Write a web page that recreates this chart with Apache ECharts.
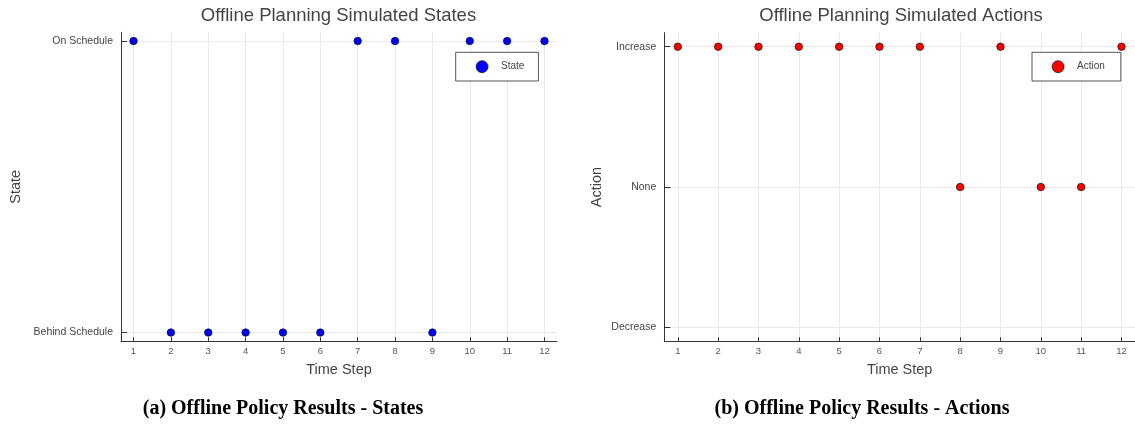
<!DOCTYPE html>
<html><head><meta charset="utf-8">
<script src="https://cdn.jsdelivr.net/npm/echarts@6/dist/echarts.min.js"></script>
<style>html,body{margin:0;padding:0;background:#fff;overflow:hidden}#c{width:1135px;height:424px}</style>
</head><body><div id="c"></div>
<script>
// ---- data ----
const timeSteps = [1, 2, 3, 4, 5, 6, 7, 8, 9, 10, 11, 12];
const stateLevels = ['Behind Schedule', 'On Schedule'];
const actionLevels = ['Decrease', 'None', 'Increase'];
const stateValues = ['On Schedule', 'Behind Schedule', 'Behind Schedule', 'Behind Schedule', 'Behind Schedule', 'Behind Schedule', 'On Schedule', 'On Schedule', 'Behind Schedule', 'On Schedule', 'On Schedule', 'On Schedule'];
const actionValues = ['Increase', 'Increase', 'Increase', 'Increase', 'Increase', 'Increase', 'Increase', 'None', 'Increase', 'None', 'None', 'Increase'];
const xTickValues = [1, 2, 3, 4, 5, 6, 7, 8, 9, 10, 11, 12];
const stateTickValues = [1, 2];
const actionTickValues = [1, 2, 3];

const stateData = timeSteps.map((t, i) => [t, stateLevels.indexOf(stateValues[i]) + 1]);
const actionData = timeSteps.map((t, i) => [t, actionLevels.indexOf(actionValues[i]) + 1]);

const FONT = 'Liberation Sans, Arial, sans-serif';
const chart = echarts.init(document.getElementById('c'), null, {renderer: 'canvas'});

function xAxis(gridIndex) {
  return {
    gridIndex, type: 'value', min: 0.665, max: 12.335,
    name: 'Time Step', nameLocation: 'middle', nameGap: 21,
    nameTextStyle: {fontFamily: FONT, fontSize: 14.5, color: '#444'},
    axisLine: {show: true, onZero: false, lineStyle: {color: '#333', width: 1}},
    axisTick: {show: true, inside: true, length: 4, customValues: xTickValues, lineStyle: {color: '#333'}},
    axisLabel: {customValues: xTickValues, fontFamily: FONT, fontSize: 9.5, color: '#555', margin: 5},
    splitLine: {show: true, lineStyle: {color: '#e9e9e9', width: 1}}
  };
}
function yAxis(gridIndex, levels, ticks, min, max, name, gap) {
  return {
    gridIndex, type: 'value', min, max,
    name, nameLocation: 'middle', nameGap: gap,
    nameTextStyle: {fontFamily: FONT, fontSize: 14.5, color: '#444'},
    axisLine: {show: true, onZero: false, lineStyle: {color: '#333', width: 1}},
    axisTick: {show: true, inside: true, length: 6, customValues: ticks, lineStyle: {color: '#333'}},
    axisLabel: {customValues: ticks, fontFamily: FONT, fontSize: 10.5, color: '#444', margin: 8,
      formatter: v => levels[Math.round(v) - 1] || ''},
    splitLine: {show: true, lineStyle: {color: '#e9e9e9', width: 1}}
  };
}

const legendBase = {
  orient: 'vertical', icon: 'circle', itemWidth: 28, itemHeight: 12,
  borderColor: '#555', borderWidth: 1, backgroundColor: '#fff',
  itemStyle: {borderColor: '#111', borderWidth: 0.7},
  textStyle: {fontFamily: FONT, fontSize: 10, color: '#444'}
};

chart.setOption({
  animation: false,
  backgroundColor: '#fff',
  grid: [
    {left: 121, top: 32.3, width: 436, height: 309},
    {left: 664.3, top: 32.7, width: 473.2, height: 308.6}
  ],
  xAxis: [xAxis(0), xAxis(1)],
  yAxis: [
    yAxis(0, stateLevels, stateTickValues, 0.97, 2.03, 'State', 98),
    yAxis(1, actionLevels, actionTickValues, 0.9, 3.1, 'Action', 60)
  ],
  legend: [
    Object.assign({}, legendBase, {data: ['State'], left: 455.7, top: 52.3, padding: [8, 14, 8, 20]}),
    Object.assign({}, legendBase, {data: ['Action'], left: 1032, top: 52.3, padding: [8, 16, 8, 19.7]})
  ],
  series: [
    {name: 'State', type: 'scatter', xAxisIndex: 0, yAxisIndex: 0, data: stateData,
     symbolSize: 7.5, itemStyle: {color: '#0000ff', borderColor: '#111', borderWidth: 0.7, opacity: 1}},
    {name: 'Action', type: 'scatter', xAxisIndex: 1, yAxisIndex: 1, data: actionData,
     symbolSize: 7.5, itemStyle: {color: '#ff0000', borderColor: '#111', borderWidth: 0.7, opacity: 1}}
  ],
  graphic: [
    {type: 'text', x: 338.5, y: 16, style: {text: 'Offline Planning Simulated States', fontFamily: FONT, fontSize: 18.5, fill: '#444', align: 'center', verticalAlign: 'middle'}},
    {type: 'text', x: 901, y: 16, style: {text: 'Offline Planning Simulated Actions', fontFamily: FONT, fontSize: 18.5, fill: '#444', align: 'center', verticalAlign: 'middle'}},
    {type: 'text', x: 283, y: 409, style: {text: '(a) Offline Policy Results - States', fontFamily: 'Liberation Serif, Times New Roman, serif', fontWeight: 'bold', fontSize: 20, fill: '#000', align: 'center', verticalAlign: 'middle'}},
    {type: 'text', x: 862, y: 409, style: {text: '(b) Offline Policy Results - Actions', fontFamily: 'Liberation Serif, Times New Roman, serif', fontWeight: 'bold', fontSize: 20, fill: '#000', align: 'center', verticalAlign: 'middle'}}
  ]
});
</script></body></html>
